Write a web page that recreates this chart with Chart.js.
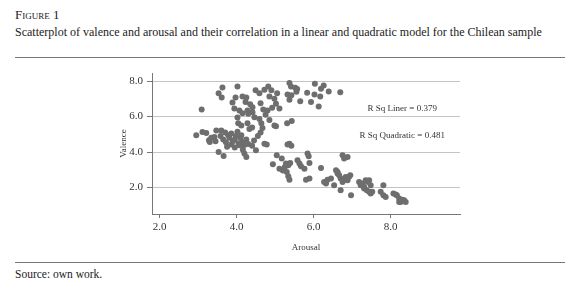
<!DOCTYPE html>
<html>
<head>
<meta charset="utf-8">
<script src="https://cdn.jsdelivr.net/npm/chart.js@4/dist/chart.umd.min.js"></script>
<style>
  html, body { margin: 0; padding: 0; background: #fff; }
  body { width: 580px; height: 293px; position: relative; overflow: hidden; font-family: "Liberation Serif", "DejaVu Serif", serif; color: #222; }
  .fig { position: absolute; left: 15px; top: 7px; font-size: 13px; font-variant: small-caps; }
  .title { position: absolute; left: 15px; top: 25px; font-size: 12px; white-space: nowrap; }
  .rule { position: absolute; left: 15px; width: 550px; height: 0; border-top: 1px solid #777; }
  .source { position: absolute; left: 15px; top: 268px; font-size: 11.5px; }
  #wrap { position: absolute; left: 0; top: 60px; width: 580px; height: 195px; }
</style>
</head>
<body>
<div class="fig">Figure 1</div>
<div class="title">Scatterplot of valence and arousal and their correlation in a linear and quadratic model for the Chilean sample</div>
<div class="rule" style="top:57px"></div>
<div id="wrap"><canvas id="scatter"></canvas></div>
<div class="rule" style="top:262px"></div>
<div class="source">Source: own work.</div>

<script>
"use strict";

/* data: arousal (x) and valence (y), one pair per respondent */
var arousal = [
    3.09, 3.63, 4.02, 3.53, 3.61, 3.89, 3.97, 4.15, 4.25, 4.49, 4.59, 4.72, 4.82, 4.90, 4.85, 4.98,
    3.94, 4.07, 4.23, 4.35, 4.41, 4.28, 4.15, 4.30, 4.41, 4.46, 4.59, 4.69, 4.80, 4.92, 4.02, 4.04,
    4.28, 4.33, 4.64, 4.67, 4.85, 4.98, 4.12, 4.40, 4.75, 4.62,
    2.95, 3.11, 3.21, 3.28, 3.34, 3.42, 3.47, 3.60, 3.53, 3.66, 3.45, 3.30, 3.58, 3.65, 3.72, 3.78,
    3.81, 3.86, 3.90, 3.86, 3.95, 3.98, 4.02, 4.05, 4.07, 4.10, 4.12, 4.15, 4.20, 4.25, 4.16, 4.20,
    4.25, 4.30, 4.40, 4.50, 3.75, 3.95, 3.70, 4.62, 4.55, 4.72, 4.78, 4.45,
    5.37, 5.41, 5.52, 5.57, 5.05, 5.32, 5.42, 5.37, 5.65, 5.83, 6.03, 6.19, 6.26, 6.02, 6.17, 6.39,
    6.69, 5.93, 6.13, 5.02, 5.11, 5.31, 5.43, 5.02, 5.55,
    5.37, 5.32, 5.42, 4.94, 5.04, 5.11, 5.17, 5.28, 5.34, 5.39, 5.20, 5.30, 5.34, 5.37, 5.25, 5.58,
    5.63, 5.67, 5.76, 5.84, 5.87, 5.89, 5.80, 5.89, 6.19, 6.36, 6.32, 6.27, 6.45, 6.53, 6.62, 6.58,
    6.66, 6.70, 6.75, 6.79, 6.83, 6.88, 6.95, 6.70, 6.97, 6.75, 6.88, 6.79, 6.62, 6.92,
    7.18, 7.27, 7.35, 7.41, 7.22, 7.31, 7.31, 7.38, 7.44, 7.48, 7.48, 7.44, 7.52, 7.81, 7.74, 7.81,
    7.87, 8.07, 8.13, 8.16, 8.22, 8.26, 8.35, 8.39, 8.30, 8.22
];
var valence = [
    6.40, 7.64, 7.70, 7.31, 7.08, 6.80, 7.08, 7.14, 7.08, 7.48, 7.31, 7.52, 7.70, 7.48, 7.14, 7.00,
    6.46, 6.35, 6.82, 6.69, 6.52, 6.35, 6.19, 6.16, 6.24, 5.96, 5.87, 6.40, 6.35, 6.50, 5.95, 5.63,
    5.63, 5.30, 5.63, 5.35, 5.80, 5.50, 5.50, 5.39, 6.10, 6.75,
    4.94, 5.13, 5.07, 4.66, 4.81, 4.85, 5.22, 5.22, 4.00, 3.77, 4.60, 4.56, 4.90, 4.70, 4.55, 4.95,
    4.80, 5.05, 4.60, 4.43, 4.70, 4.90, 5.15, 4.50, 4.38, 4.80, 4.95, 4.55, 4.40, 4.70, 4.13, 3.91,
    3.72, 4.45, 4.35, 4.10, 4.30, 4.25, 5.10, 5.10, 4.90, 4.47, 4.43, 4.65,
    7.89, 7.70, 7.63, 7.55, 7.32, 7.25, 7.20, 6.95, 6.87, 7.35, 7.85, 7.57, 7.76, 7.25, 7.14, 7.42,
    7.38, 6.82, 6.57, 6.73, 6.45, 5.63, 5.75, 5.45, 7.40,
    4.47, 4.43, 4.35, 3.31, 3.81, 3.06, 3.63, 3.35, 3.25, 3.38, 2.95, 2.87, 2.63, 2.44, 3.15, 3.53,
    3.35, 3.20, 3.06, 3.91, 3.76, 3.38, 2.44, 2.50, 3.10, 2.44, 2.22, 2.30, 2.50, 2.12, 2.78, 2.97,
    2.69, 2.50, 2.31, 2.44, 2.59, 2.41, 2.69, 1.84, 1.56, 3.81, 3.72, 3.63, 2.87, 2.60,
    2.31, 2.22, 2.41, 2.31, 2.12, 2.03, 1.94, 1.84, 1.75, 1.66, 2.12, 2.41, 1.75, 2.12, 1.75, 1.56,
    1.46, 1.66, 1.60, 1.56, 1.38, 1.18, 1.28, 1.18, 1.30, 1.18
];
var tickValues = [2, 4, 6, 8];
var fitLabels = ['R Sq Liner = 0.379', 'R Sq Quadratic = 0.481'];

document.addEventListener("DOMContentLoaded", function () {

    var points = arousal.map(function (a, i) {
        return { x: a, y: valence[i] };
    });

    var serif = '"Liberation Serif", "DejaVu Serif", serif';

    /* fit statistics written inside the plot, placed in data units */
    var fitText = {
        id: 'fitText',
        afterDatasetsDraw: function (chart) {
            var ctx = chart.ctx;
            var sx = chart.scales.x, sy = chart.scales.y;
            var spots = [[8.3, 6.46], [8.3, 4.94]];
            ctx.save();
            ctx.font = '9px ' + serif;
            ctx.fillStyle = '#333';
            ctx.textAlign = 'center';
            ctx.textBaseline = 'middle';
            fitLabels.forEach(function (t, i) {
                ctx.fillText(t, sx.getPixelForValue(spots[i][0]), sy.getPixelForValue(spots[i][1]));
            });
            ctx.restore();
        }
    };

    var ctx = document.getElementById('scatter').getContext('2d');
    new Chart(ctx, {
        type: 'scatter',
        data: {
            datasets: [{
                data: points,
                backgroundColor: '#6e6e6e',
                borderWidth: 0,
                pointRadius: 3,
                pointHoverRadius: 3
            }]
        },
        options: {
            responsive: true,
            maintainAspectRatio: false,
            animation: false,
            layout: {
                padding: { left: 90, right: 120, top: 13, bottom: 0 }
            },
            plugins: {
                legend: { display: false },
                tooltip: { enabled: false }
            },
            scales: {
                x: {
                    type: 'linear',
                    min: 1.8,
                    max: 9.8,
                    afterBuildTicks: function (scale) {
                        scale.ticks = tickValues.map(function (v) { return { value: v }; });
                    },
                    afterFit: function (scale) { scale.height = 41; },
                    grid: {
                        drawOnChartArea: false,
                        drawTicks: true,
                        tickLength: 4,
                        tickColor: '#777'
                    },
                    border: { color: '#777', width: 1 },
                    ticks: {
                        padding: 3,
                        color: '#333',
                        font: { family: serif, size: 11 },
                        callback: function (v) { return Number(v).toFixed(1); }
                    },
                    title: {
                        display: true,
                        text: 'Arousal',
                        color: '#333',
                        font: { family: serif, size: 9 },
                        padding: { top: 0, bottom: 2 }
                    }
                },
                y: {
                    type: 'linear',
                    min: 0.5,
                    max: 8.46,
                    afterBuildTicks: function (scale) {
                        scale.ticks = tickValues.map(function (v) { return { value: v }; });
                    },
                    afterFit: function (scale) { scale.width = 62; },
                    grid: {
                        color: '#c4c4c4',
                        drawTicks: true,
                        tickLength: 5,
                        tickColor: '#777'
                    },
                    border: { color: '#777', width: 1 },
                    ticks: {
                        padding: 4,
                        color: '#333',
                        font: { family: serif, size: 11 },
                        callback: function (v) { return Number(v).toFixed(1); }
                    },
                    title: {
                        display: true,
                        text: 'Valence',
                        color: '#333',
                        font: { family: serif, size: 9 },
                        padding: { top: 28, bottom: 0 }
                    }
                }
            }
        },
        plugins: [fitText]
    });
});
</script>
</body>
</html>
